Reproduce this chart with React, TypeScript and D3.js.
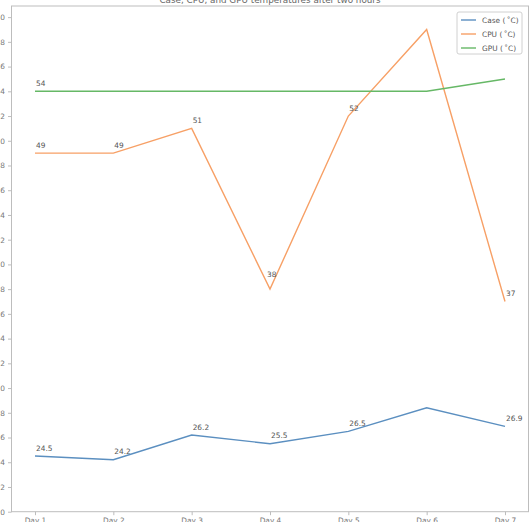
import React, { useEffect, useRef } from "react";
import * as d3 from "d3";

const days = ["Day 1", "Day 2", "Day 3", "Day 4", "Day 5", "Day 6", "Day 7"];
const caseTemps = [24.5, 24.2, 26.2, 25.5, 26.5, 28.4, 26.9];
const cpuTemps = [49, 49, 51, 38, 52, 59, 37];
const gpuTemps = [54, 54, 54, 54, 54, 54, 55];
const caseLabels = ["24.5", "24.2", "26.2", "25.5", "26.5", null, "26.9"];
const cpuLabels = ["49", "49", "51", "38", "52", null, "37"];
const gpuLabels = ["54", null, null, null, null, null, null];
const yTicks = d3.range(20, 61, 2);
const seriesNames = ["Case (\u2009\u02daC)", "CPU (\u2009\u02daC)", "GPU (\u2009\u02daC)"];
const seriesColors = ["#5b8fc0", "#f7a066", "#66b866"];

const W = 530;
const H = 522;
const FONT = "DejaVu Sans, sans-serif";

export default function App() {
  const svgRef = useRef<SVGSVGElement>(null);

  useEffect(() => {
    if (!svgRef.current) return;
    const svg = d3.select(svgRef.current);
    svg.selectAll("*").remove();

    const x = d3.scalePoint<string>().domain(days).range([35, 505]);
    const step = x.step();
    const left = 35 - step * 0.3;
    const right = 505 + step * 0.3;
    const y = d3.scaleLinear().domain([20, 60.9]).range([511.7, 6]);

    // frame
    svg.append("rect")
      .attr("x", left).attr("y", y(60.9))
      .attr("width", right - left).attr("height", y(20) - y(60.9))
      .attr("fill", "none").attr("stroke", "#bdbdbd").attr("stroke-width", 1);

    // y axis
    const yAxis = svg.append("g")
      .attr("transform", `translate(${left},0)`)
      .call(d3.axisLeft(y).tickValues(yTicks).tickSize(3.5).tickPadding(3).tickFormat(d3.format("d")));
    yAxis.select(".domain").remove();
    yAxis.selectAll("line").attr("stroke", "#bdbdbd");
    yAxis.selectAll("text").attr("fill", "#777").attr("font-size", 7.4).attr("font-family", FONT);

    // x axis
    const xAxis = svg.append("g")
      .attr("transform", `translate(0,${y(20)})`)
      .call(d3.axisBottom(x).tickSize(3.5).tickPadding(3));
    xAxis.select(".domain").remove();
    xAxis.selectAll("line").attr("stroke", "#bdbdbd");
    xAxis.selectAll("text").attr("fill", "#777").attr("font-size", 7.4).attr("font-family", FONT);

    const line = d3.line<number>()
      .x((_, i) => x(days[i])!)
      .y(d => y(d));

    const series = [
      { values: caseTemps, labels: caseLabels },
      { values: cpuTemps, labels: cpuLabels },
      { values: gpuTemps, labels: gpuLabels },
    ];

    series.forEach((s, si) => {
      svg.append("path")
        .datum(s.values)
        .attr("d", line)
        .attr("fill", "none")
        .attr("stroke", seriesColors[si])
        .attr("stroke-width", 1.4);
    });

    // value labels (the CPU dip label sits a bit higher, clear of the V)
    series.forEach((s, si) => {
      s.values.forEach((v, i) => {
        const lab = s.labels[i];
        if (!lab) return;
        const dip = si === 1 && i === 3;
        svg.append("text")
          .attr("x", x(days[i])! + (dip ? -3 : 1))
          .attr("y", y(v) - (dip ? 12 : 5.5))
          .attr("font-size", 7.4)
          .attr("font-family", FONT)
          .attr("fill", "#555")
          .text(lab);
      });
    });

    // title
    svg.append("text")
      .attr("x", (left + right) / 2)
      .attr("y", 2.5)
      .attr("text-anchor", "middle")
      .attr("font-size", 8.8)
      .attr("font-family", FONT)
      .attr("fill", "#666")
      .text("Case, CPU, and GPU temperatures after two hours");

    // legend
    const lg = svg.append("g").attr("transform", "translate(457,12)");
    lg.append("rect")
      .attr("width", 65).attr("height", 42).attr("rx", 2)
      .attr("fill", "white").attr("fill-opacity", 0.8)
      .attr("stroke", "#d0d0d0");
    seriesNames.forEach((name, i) => {
      const cy = 8 + i * 14;
      lg.append("line")
        .attr("x1", 4).attr("x2", 19).attr("y1", cy).attr("y2", cy)
        .attr("stroke", seriesColors[i]).attr("stroke-width", 1.4);
      lg.append("text")
        .attr("x", 25).attr("y", cy + 2.7)
        .attr("font-size", 7.4).attr("font-family", FONT).attr("fill", "#555")
        .text(name);
    });
  }, []);

  return (
    <div style={{ position: "absolute", left: 0, top: 0 }}>
      <svg ref={svgRef} width={W} height={H} style={{ display: "block", background: "white" }} />
    </div>
  );
}
